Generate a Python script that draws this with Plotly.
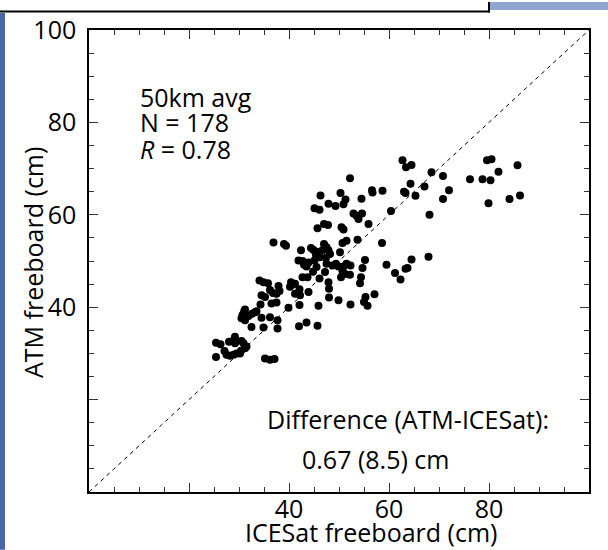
import plotly.graph_objects as go

# ICESat freeboard (x) and ATM freeboard (y), cm, 50 km averages
icesat_fb = [62.7, 63.4, 64.5, 52.2, 68.5, 56.6, 56.7, 58.7, 64.3, 63.0, 63.3, 65.3, 67.1,
             46.3, 50.3, 54.5, 51.3, 50.9, 47.9, 49.3, 45.1, 46.1, 60.4, 52.9, 53.5, 54.6,
             53.9, 68.1, 55.9, 47.0, 47.8, 45.7, 50.5, 50.9, 36.9, 39.0, 39.4, 51.5, 50.7,
             53.7, 58.6, 42.4, 44.4, 44.9, 45.5, 47.0, 47.5, 46.7, 47.9, 48.2, 47.4, 45.4,
             46.2, 50.2, 41.9, 42.7, 43.0, 43.5, 43.9, 45.1, 45.5, 47.5, 48.7, 49.4, 49.9,
             50.9, 51.5, 52.3, 50.7, 51.2, 50.4, 52.2, 54.7, 59.5, 64.5, 63.7, 63.3, 61.2,
             62.3, 67.9, 42.7, 46.1, 47.9, 48.0, 54.4, 54.2, 34.1, 34.9, 35.8, 37.9, 40.4,
             40.7, 41.2, 40.2, 43.7, 36.2, 36.8, 37.5, 38.1, 37.5, 36.5, 34.5, 35.2, 42.1,
             41.2, 42.2, 43.9, 48.0, 49.9, 55.3, 55.0, 55.7, 57.1, 52.3, 45.9, 42.1, 39.9,
             34.3, 31.2, 31.0, 30.7, 30.5, 31.2, 31.9, 32.6, 33.2, 33.5, 34.5, 36.2, 37.7,
             32.5, 34.9, 37.7, 42.0, 43.5, 45.7, 25.4, 26.3, 28.0, 28.9, 29.2, 30.5, 30.9,
             31.2, 30.4, 29.5, 28.9, 28.2, 27.5, 25.4, 30.2, 31.5, 27.1, 35.2, 36.2, 37.1,
             29.2, 70.8, 72.0, 70.8, 76.2, 78.7, 80.3, 79.6, 80.5, 81.9, 85.7, 79.9, 84.1,
             86.2, 55.2, 47.2, 44.8]
atm_fb = [71.8, 70.3, 70.8, 67.9, 69.2, 65.3, 64.8, 65.2, 66.7, 65.0, 64.7, 64.1, 66.1,
          64.2, 64.7, 63.5, 63.3, 62.3, 62.4, 61.9, 61.4, 61.1, 60.8, 60.3, 59.8, 60.3,
          59.1, 60.0, 58.0, 58.0, 57.8, 57.1, 57.3, 56.8, 54.0, 53.7, 53.3, 54.4, 53.9,
          54.6, 53.9, 52.3, 52.8, 52.4, 52.0, 53.7, 53.0, 52.3, 52.3, 51.5, 50.7, 51.3,
          50.8, 51.9, 50.1, 50.0, 49.2, 48.8, 49.7, 50.1, 48.7, 49.4, 49.0, 49.4, 48.8,
          48.8, 49.4, 49.0, 47.8, 47.2, 46.5, 47.0, 48.5, 49.2, 50.3, 48.5, 48.3, 47.4,
          46.0, 50.9, 46.5, 46.2, 45.4, 44.0, 46.5, 45.2, 45.8, 45.4, 45.2, 44.6, 45.4,
          44.9, 45.1, 44.4, 46.5, 43.7, 43.1, 42.9, 43.5, 41.0, 40.8, 42.6, 42.2, 43.9,
          42.9, 42.6, 43.3, 42.1, 41.5, 42.2, 41.1, 40.3, 42.8, 40.6, 40.3, 40.5, 39.9,
          40.6, 39.5, 39.0, 38.3, 37.6, 37.2, 38.1, 38.6, 38.9, 39.1, 37.7, 37.8, 37.2,
          35.7, 35.6, 35.4, 35.9, 36.7, 36.0, 32.3, 32.0, 32.5, 32.8, 32.2, 32.7, 32.2,
          31.1, 30.6, 30.0, 29.7, 29.5, 29.7, 29.2, 30.0, 31.5, 30.5, 28.9, 28.6, 28.8,
          33.6, 68.4, 65.3, 63.4, 67.7, 67.7, 67.5, 71.8, 72.0, 69.3, 70.7, 62.5, 63.4,
          64.2, 50.2, 47.6, 47.7]

one_to_one = [0, 100]
x_tick_vals = [20, 40, 60, 80]
x_tick_text = ["", "40", "60", "80"]
y_tick_vals = [20, 40, 60, 80, 100]
y_tick_text = ["", "40", "60", "80", "100"]

FONT = "Open Sans"
FS = 25

fig = go.Figure()
fig.add_trace(go.Scatter(x=one_to_one, y=one_to_one, mode="lines",
                         line=dict(color="black", width=1, dash="4px,4px"),
                         hoverinfo="skip"))
fig.add_trace(go.Scatter(x=icesat_fb, y=atm_fb, mode="markers",
                         marker=dict(color="black", size=8, line=dict(width=0))))

axis_common = dict(range=[0, 100], showgrid=False, zeroline=False, showline=True,
                   linecolor="black", linewidth=1.5, mirror="ticks", ticks="inside",
                   ticklen=9, tickwidth=1, tickcolor="#333",
                   tickfont=dict(family=FONT, size=FS, color="black"),
                   minor=dict(dtick=5, tick0=0, ticks="inside", ticklen=5,
                              tickwidth=1, tickcolor="#333", showgrid=False))

fig.update_layout(
    width=608, height=550,
    margin=dict(l=89, r=19, t=28, b=58),
    paper_bgcolor="white", plot_bgcolor="white",
    showlegend=False,
    font=dict(family=FONT, size=FS, color="black"),
    xaxis=dict(**axis_common, tickmode="array", tickvals=x_tick_vals, ticktext=x_tick_text,
               ticklabelstandoff=-6),
    yaxis=dict(**axis_common, tickmode="array", tickvals=y_tick_vals, ticktext=y_tick_text,
               ticklabelstandoff=6),
)

ann = dict(showarrow=False, font=dict(family=FONT, size=FS, color="black"))
fig.add_annotation(x=9.8, y=85.6, xref="x", yref="y", text="50km avg",
                   xanchor="left", yanchor="middle", **ann)
fig.add_annotation(x=9.8, y=80.0, xref="x", yref="y", text="N = 178",
                   xanchor="left", yanchor="middle", **ann)
fig.add_annotation(x=9.8, y=74.2, xref="x", yref="y", text="<i>R</i> = 0.78",
                   xanchor="left", yanchor="middle", **ann)
fig.add_annotation(x=35.2, y=15.7, xref="x", yref="y", text="Difference (ATM-ICESat):",
                   xanchor="left", yanchor="middle", **ann)
fig.add_annotation(x=42.2, y=7.1, xref="x", yref="y", text="0.67 (8.5) cm",
                   xanchor="left", yanchor="middle", **ann)
# axis titles
fig.add_annotation(x=(371 - 89) / 500, y=(492 - 532) / 464, xref="paper", yref="paper",
                   text="ICESat freeboard (cm)", xanchor="center", yanchor="middle", **ann)
fig.add_annotation(x=(33 - 89) / 500, y=(492 - 262) / 464, xref="paper", yref="paper",
                   text="ATM freeboard (cm)", textangle=-90, xanchor="center",
                   yanchor="middle", **ann)

# window decoration (top box edge, blue bars)
def px(xp):
    return (xp - 89) / 500

def py(yp):
    return (492 - yp) / 464

fig.add_shape(type="rect", xref="paper", yref="paper", x0=px(489), x1=px(608),
              y0=py(8), y1=py(0), fillcolor="#8fa6d2", line=dict(width=0), layer="above")
fig.add_shape(type="rect", xref="paper", yref="paper", x0=px(0), x1=px(490),
              y0=py(10.5), y1=py(8.5), fillcolor="black", line=dict(width=0), layer="above")
fig.add_shape(type="rect", xref="paper", yref="paper", x0=px(488), x1=px(490),
              y0=py(10.5), y1=py(0), fillcolor="black", line=dict(width=0), layer="above")
fig.add_shape(type="rect", xref="paper", yref="paper", x0=px(0), x1=px(5),
              y0=py(550), y1=py(11), fillcolor="#4767a6", line=dict(width=0))

fig.write_html("out.html", config={"displayModeBar": False},
               post_script="document.body.style.margin='0';document.body.style.overflow='hidden';")
